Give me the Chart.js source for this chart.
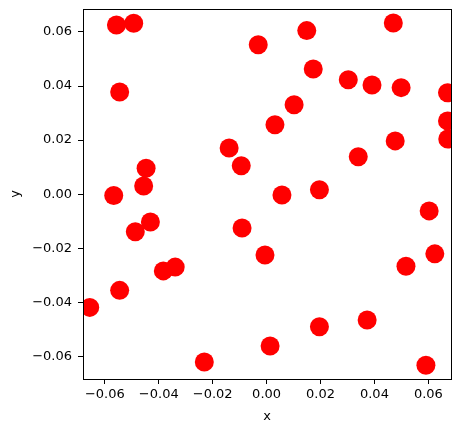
<!DOCTYPE html>
<html>
<head>
<meta charset="utf-8">
<script src="https://cdn.jsdelivr.net/npm/chart.js@4"></script>
<style>
  html, body { margin: 0; padding: 0; background: #fff; }
  #wrap { width: 461px; height: 432px; }
</style>
</head>
<body>
<div id="wrap"><canvas id="scatterChart" width="461" height="432"></canvas></div>
<script>
// scatter values
const xs = [-0.0557, -0.0493, -0.0545, -0.0567, -0.0447, -0.0456, -0.0487, -0.0431, -0.0656, -0.0545,
            -0.0383, -0.0339, -0.0231, -0.0139, -0.0094, -0.0091, -0.0031, -0.0006, 0.0013, 0.0031,
             0.0057, 0.0102, 0.0149, 0.0173, 0.0196, 0.0196, 0.0303, 0.0340, 0.0391, 0.0373,
             0.0470, 0.0477, 0.0499, 0.0517, 0.0603, 0.0624, 0.0591, 0.0671, 0.0671, 0.0672];
const ys = [ 0.0626, 0.0632, 0.0378, -0.0005, 0.0096, 0.0030, -0.0139, -0.0103, -0.0419, -0.0356,
            -0.0284, -0.0270, -0.0621, 0.0171, 0.0105, -0.0125, 0.0553, -0.0225, -0.0562, 0.0257,
            -0.0003, 0.0331, 0.0605, 0.0463, 0.0016, -0.0491, 0.0423, 0.0138, 0.0404, -0.0466,
             0.0633, 0.0197, 0.0394, -0.0267, -0.0062, -0.0221, -0.0633, 0.0375, 0.0271, 0.0204];
const xTicks = [-0.06, -0.04, -0.02, 0.00, 0.02, 0.04, 0.06];
const yTicks = [-0.06, -0.04, -0.02, 0.00, 0.02, 0.04, 0.06];

const points = xs.map((x, i) => ({ x: x, y: ys[i] }));

function fmt(v) {
    if (Math.abs(v) < 1e-9) v = 0;
    return v.toFixed(2).replace('-', '\u2212');
}

// full box around the plot area, like matplotlib spines
const frame = {
    id: 'frame',
    afterDraw(chart) {
        const a = chart.chartArea;
        const c = chart.ctx;
        c.save();
        c.strokeStyle = '#000';
        c.lineWidth = 1;
        c.strokeRect(Math.round(a.left) + 0.5, Math.round(a.top) + 0.5,
                     Math.round(a.right - a.left), Math.round(a.bottom - a.top));
        c.restore();
    }
};

const font = { family: 'DejaVu Sans', size: 13 };

new Chart(document.getElementById('scatterChart'), {
    type: 'scatter',
    data: {
        datasets: [{
            data: points,
            backgroundColor: '#ff0000',
            borderWidth: 0,
            pointRadius: 9.5,
            pointHoverRadius: 9.5,
            clip: 0
        }]
    },
    options: {
        responsive: false,
        animation: false,
        layout: { autoPadding: false, padding: { left: 0, right: 10, top: 9, bottom: 0 } },
        plugins: { legend: { display: false }, tooltip: { enabled: false } },
        scales: {
            x: {
                type: 'linear',
                min: -0.0681,
                max: 0.0684,
                border: { display: false },
                grid: { drawOnChartArea: false, drawTicks: true, tickLength: 5, tickColor: '#000' },
                afterBuildTicks: s => { s.ticks = xTicks.map(v => ({ value: v })); },
                afterFit: s => { s.height = 53; s.paddingLeft = 0; s.paddingRight = 0; },
                ticks: { color: '#000', font: font, padding: 3, maxRotation: 0, callback: v => fmt(v) },
                title: { display: true, text: 'x', color: '#000', font: font, padding: { top: 0, bottom: 8 } }
            },
            y: {
                type: 'linear',
                min: -0.0684,
                max: 0.0685,
                border: { display: false },
                grid: { drawOnChartArea: false, drawTicks: true, tickLength: 5, tickColor: '#000' },
                afterBuildTicks: s => { s.ticks = yTicks.map(v => ({ value: v })); },
                afterFit: s => { s.width = 83; s.paddingTop = 0; s.paddingBottom = 0; },
                ticks: { color: '#000', font: font, padding: 6, callback: v => fmt(v) },
                title: { display: true, text: 'y', color: '#000', font: font, padding: { top: 8, bottom: 0 } }
            }
        }
    },
    plugins: [frame]
});
</script>
</body>
</html>
